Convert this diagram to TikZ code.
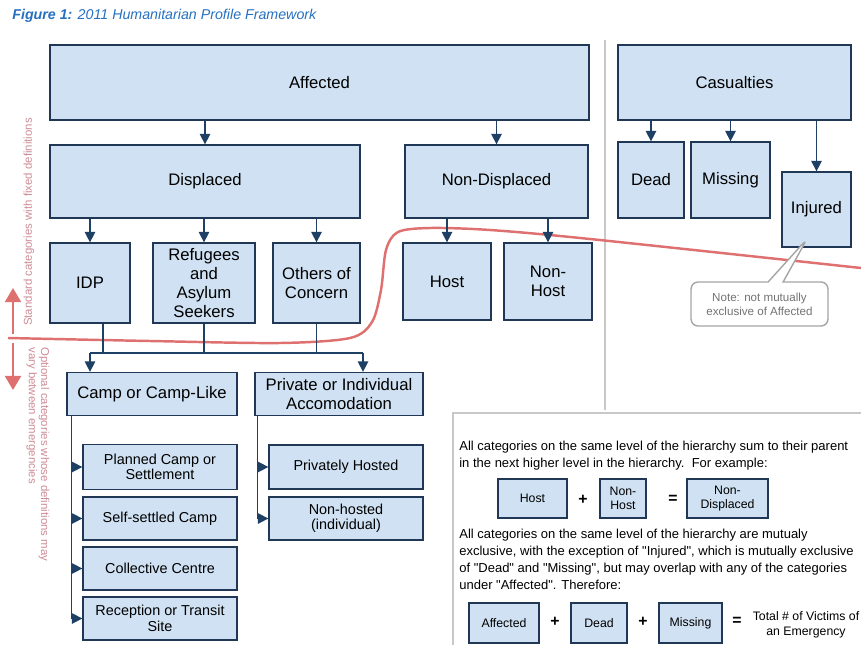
\documentclass[tikz,border=0pt]{standalone}
\usepackage{fontspec}
\setmainfont{Liberation Sans}[Ligatures=TeXOff]
\usepackage{tikz}
\usetikzlibrary{arrows.meta}
\usetikzlibrary{shapes.callouts}
\usepackage{xcolor}
\definecolor{ColFill}{RGB}{207,225,242}
\definecolor{ColEdge}{RGB}{32,56,86}
\definecolor{ColArc}{RGB}{30,64,100}
\definecolor{ColLine}{RGB}{222,112,112}
\definecolor{ColNote}{RGB}{165,165,165}
\definecolor{ColSep}{RGB}{200,200,200}
\definecolor{ColTitle}{RGB}{38,112,192}
\definecolor{ColSide}{RGB}{205,140,150}
\tikzstyle{NodeBox}=[rectangle,draw=ColEdge,fill=ColFill,line width=.75pt,inner sep=1pt,
align=center,font=\fontsize{9.5}{10.8}\selectfont]
\tikzstyle{LeafBox}=[NodeBox,font=\fontsize{8.2}{8.8}\selectfont]
\tikzstyle{SumBox}=[NodeBox,line width=.7pt,font=\fontsize{7}{8}\selectfont]
\tikzstyle{LineBox}=[ColArc,line width=.85pt]
\tikzstyle{ArcBox}=[LineBox,-{Triangle[length=6pt,width=6pt]}]
\tikzstyle{SideArc}=[ColLine,line width=1.6pt,-{Triangle[length=8pt,width=9pt]}]
\tikzstyle{SideText}=[inner sep=0pt,text=ColSide,font=\fontsize{6.5}{6.9}\selectfont]
\tikzstyle{PanelText}=[inner sep=0pt,align=left,font=\fontsize{7.4}{9.7}\selectfont]
\tikzstyle{SignText}=[inner sep=0pt,font=\fontsize{9}{10}\selectfont\bfseries]

\begin{document}
\begin{tikzpicture}[x=.02cm,y=-.02cm]
    \useasboundingbox (0,0) rectangle (861,645);
    \node[anchor=west,inner sep=0pt,text=ColTitle,font=\fontsize{8.1}{9}\selectfont\itshape](title)at(12,16)
        {\textbf{Figure 1:} 2011 Humanitarian Profile Framework};
    % grey separators
    \draw[ColSep,line width=1.4pt](605,40)--(605,410);
    \draw[ColSep,line width=1.4pt](453,645)--(453,413)--(861,413);
    % red border between standard and optional
    \draw[ColLine,line width=1.4pt] plot[smooth,tension=.5] coordinates {(8,338) (150,341) (280,343)
        (350,338) (372,322) (381,290) (386,250) (398,232) (430,228) (490,230) (590,239) (861,268)};
    \coordinate (sideUp) at (13,288);
    \coordinate (sideUpFoot) at (13,334);
    \coordinate (sideDown) at (13,390);
    \coordinate (sideDownFoot) at (13,343);
    \draw[SideArc](sideUpFoot)--(sideUp);
    \draw[SideArc](sideDownFoot)--(sideDown);
    \node[SideText,rotate=90](stdNote)at(29,222){Standard categories with fixed definitions};
    \node[SideText,rotate=-90,anchor=west,align=left](optNote)at(38,347)
        {Optional categories whose definitions may\\vary between emergencies};
    % standard categories
    \node[NodeBox,minimum width=10.78cm,minimum height=1.5cm](affected)at(319.5,82.5){Affected};
    \node[NodeBox,minimum width=4.66cm,minimum height=1.5cm](casualties)at(734.5,82.5){Casualties};
    \node[NodeBox,minimum width=6.2cm,minimum height=1.46cm](displaced)at(205,181.5){Displaced};
    \node[NodeBox,minimum width=3.66cm,minimum height=1.46cm](nondisp)at(496.5,181.5){Non-Displaced};
    \node[NodeBox,minimum width=1.32cm,minimum height=1.52cm](dead)at(651,180){Dead};
    \node[NodeBox,minimum width=1.58cm,minimum height=1.52cm](missing)at(730.5,180){Missing};
    \node[NodeBox,minimum width=1.38cm,minimum height=1.5cm](injured)at(816.5,209.5){Injured};
    \node[NodeBox,minimum width=1.6cm,minimum height=1.6cm](idp)at(90,283){IDP};
    \node[NodeBox,minimum width=2.04cm,minimum height=1.6cm](refugees)at(204,283){Refugees\\and\\Asylum\\Seekers};
    \node[NodeBox,minimum width=1.74cm,minimum height=1.6cm](others)at(316.5,283){Others of\\Concern};
    \node[NodeBox,minimum width=1.76cm,minimum height=1.54cm](host)at(447,281.5){Host};
    \node[NodeBox,minimum width=1.76cm,minimum height=1.54cm](nonhost)at(548,281.5){Non-\\Host};
    \draw[ArcBox](affected.south -| displaced.north)--(displaced.north);
    \draw[ArcBox](affected.south -| nondisp.north)--(nondisp.north);
    \draw[ArcBox](casualties.south -| dead.north)--(dead.north);
    \draw[ArcBox](casualties.south -| missing.north)--(missing.north);
    \draw[ArcBox](casualties.south -| injured.north)--(injured.north);
    \draw[ArcBox](displaced.south -| idp.north)--(idp.north);
    \draw[ArcBox](displaced.south -| refugees.north)--(refugees.north);
    \draw[ArcBox](displaced.south -| others.north)--(others.north);
    \draw[ArcBox](nondisp.south -| host.north)--(host.north);
    \draw[ArcBox](nondisp.south -| nonhost.north)--(nonhost.north);
    % optional categories
    \node[NodeBox,minimum width=3.4cm,minimum height=.86cm](camp)at(152,394){Camp or Camp-Like};
    \node[NodeBox,minimum width=3.36cm,minimum height=.86cm](private)at(339,394){Private or Individual\\Accomodation};
    \node[LeafBox,minimum width=3.08cm,minimum height=.9cm](planned)at(160,467){Planned Camp or\\Settlement};
    \node[LeafBox,minimum width=3.08cm,minimum height=.86cm](selfsettled)at(160,518.5){Self-settled Camp};
    \node[LeafBox,minimum width=3.08cm,minimum height=.86cm](collective)at(160,568.5){Collective Centre};
    \node[LeafBox,minimum width=3.08cm,minimum height=.86cm](reception)at(160,618.5){Reception or Transit\\Site};
    \node[LeafBox,minimum width=3.08cm,minimum height=.88cm](privhosted)at(346,467){Privately Hosted};
    \node[LeafBox,minimum width=3.08cm,minimum height=.86cm](nonhosted)at(346,518.5){Non-hosted\\(individual)};
    \coordinate (busL) at (90,353);
    \coordinate (busR) at (363,353);
    \draw[LineBox]([xshift=.26cm]idp.south)--([xshift=.26cm]idp.south |- busL);
    \draw[LineBox](refugees.south)--(refugees.south |- busL);
    \draw[LineBox](others.south)--(others.south |- busL);
    \draw[LineBox](busL)--(busR);
    \draw[ArcBox](busL)--(busL |- camp.north);
    \draw[ArcBox](busR)--(busR |- private.north);
    \draw[ArcBox]([xshift=.1cm]camp.south west)|-(planned.west);
    \draw[ArcBox]([xshift=.1cm]camp.south west)|-(selfsettled.west);
    \draw[ArcBox]([xshift=.1cm]camp.south west)|-(collective.west);
    \draw[ArcBox]([xshift=.1cm]camp.south west)|-(reception.west);
    \draw[ArcBox]([xshift=.06cm]private.south west)|-(privhosted.west);
    \draw[ArcBox]([xshift=.06cm]private.south west)|-(nonhosted.west);
    % note on injured
    \coordinate (noteTip) at (807,239);
    \node[rectangle callout,draw=ColNote,fill=white,rounded corners=4pt,line width=.8pt,
        minimum width=2.74cm,minimum height=.88cm,inner sep=1pt,align=center,text=black!55,
        font=\fontsize{6.6}{7.9}\selectfont,callout absolute pointer={(noteTip)},
        callout pointer width=.3cm](note)at(759.5,304){Note: not mutually\\exclusive of Affected};
    % sums
    \node[PanelText,anchor=north west](sumText)at(459,441)
        {All categories on the same level of the hierarchy sum to their parent\\
        in the next higher level in the hierarchy.\ \ For example:};
    \node[SumBox,minimum width=1.38cm,minimum height=.78cm](hostSum)at(532.5,498.5){Host};
    \node[SignText](plusA)at(583,500){+};
    \node[SumBox,minimum width=.92cm,minimum height=.78cm](nonhostSum)at(623,498.5){Non-\\Host};
    \node[SignText](eqA)at(673,499){=};
    \node[SumBox,minimum width=1.62cm,minimum height=.78cm](nondispSum)at(727.5,498.5){Non-\\Displaced};
    \node[PanelText,anchor=north west](exclText)at(459,529)
        {All categories on the same level of the hierarchy are mutualy\\
        exclusive, with the exception of "Injured", which is mutually exclusive\\
        of "Dead" and "Missing", but may overlap with any of the categories\\
        under "Affected". Therefore:};
    \node[SumBox,minimum width=1.4cm,minimum height=.8cm](affectedSum)at(504,623){Affected};
    \node[SignText](plusB)at(555,622){+};
    \node[SumBox,minimum width=1.12cm,minimum height=.8cm](deadSum)at(599,623){Dead};
    \node[SignText](plusC)at(643,622){+};
    \node[SumBox,minimum width=1.26cm,minimum height=.8cm](missingSum)at(690.5,623){Missing};
    \node[SignText](eqB)at(737,621){=};
    \node[inner sep=0pt,align=center,font=\fontsize{7}{8.2}\selectfont](totalSum)at(806,625)
        {Total \# of Victims of\\an Emergency};
\end{tikzpicture}
\end{document}
